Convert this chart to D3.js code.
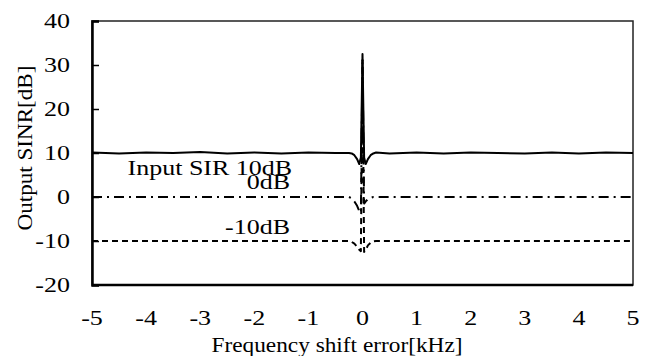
<!DOCTYPE html>
<html>
<head>
<meta charset="utf-8">
<script src="https://cdn.jsdelivr.net/npm/d3@7"></script>
<style>
  body { margin: 0; background: #fff; }
</style>
</head>
<body>
<svg id="chart" width="649" height="356"></svg>
<script>
// Frequency shift error [kHz] (shared x for all three curves)
const freqKHz = [-5, -4.5, -4, -3.5, -3, -2.5, -2, -1.5, -1, -0.5,
  -0.25, -0.2, -0.15, -0.1, -0.06, -0.03, 0, 0.03, 0.06, 0.1, 0.15, 0.2, 0.25,
  0.5, 1, 1.5, 2, 2.5, 3, 3.5, 4, 4.5, 5];

// Output SINR [dB] per input SIR
const sinrSir10 = [10.1, 9.9, 10.1, 10.0, 10.2, 9.9, 10.1, 9.9, 10.1, 10.0,
  10.0, 9.9, 9.5, 8.6, 7.5, 9.0, 32.5, 9.0, 7.5, 8.6, 9.5, 9.9, 10.1,
  9.9, 10.1, 9.9, 10.1, 10.0, 9.9, 10.1, 9.9, 10.1, 10.0];
const sinrSir0 = [0, 0, 0, 0, 0, 0, 0, 0, 0, 0,
  0, -0.3, -1.0, -2.0, -3.2, -3.6, 31.5, -1.5, -1.0, -0.5, -0.2, 0, 0,
  0, 0, 0, 0, 0, 0, 0, 0, 0, 0];
const sinrSirM10 = [-10, -10, -10, -10, -10, -10, -10, -10, -10, -10,
  -10, -10.2, -10.6, -11.3, -12.0, -12.3, 31, -12.5, -12.0, -11.0, -10.4, -10.1, -10,
  -10, -10, -10, -10, -10, -10, -10, -10, -10, -10];

const xTicks = [-5, -4, -3, -2, -1, 0, 1, 2, 3, 4, 5];
const yTicks = [-20, -10, 0, 10, 20, 30, 40];
const seriesLabels = ["Input SIR 10dB", "0dB", "-10dB"];

const font = "'Liberation Serif', 'Times New Roman', serif";

const margin = { top: 21, right: 16, bottom: 71, left: 92 };
const width = 649, height = 356;
const svg = d3.select("#chart");

const x = d3.scaleLinear().domain([-5, 5]).range([margin.left, width - margin.right]);
const y = d3.scaleLinear().domain([-20, 40]).range([height - margin.bottom, margin.top]);

// text is a bit wide in the original, so stretch it horizontally
function addText(g, str, px, py, opts) {
  const o = Object.assign({ size: 20, sx: 1.3, anchor: "middle", rotate: 0 }, opts);
  return g.append("text")
    .attr("transform", `translate(${px},${py})` + (o.rotate ? ` rotate(${o.rotate})` : "") + ` scale(${o.sx},1)`)
    .attr("text-anchor", o.anchor)
    .attr("font-size", o.size)
    .style("font-family", font)
    .attr("fill", "#000")
    .text(str);
}

// plot frame (top / right)
svg.append("rect")
  .attr("x", x(-5)).attr("y", y(40))
  .attr("width", x(5) - x(-5)).attr("height", y(-20) - y(40))
  .attr("fill", "none").attr("stroke", "#222").attr("stroke-width", 1.5);

// curves
const series = [
  { values: sinrSir10, dash: null },
  { values: sinrSir0, dash: "10,5,2,5" },
  { values: sinrSirM10, dash: "6,4" }
];
const line = d3.line().x(d => x(d[0])).y(d => y(d[1]));
series.forEach(s => {
  svg.append("path")
    .datum(freqKHz.map((f, i) => [f, s.values[i]]))
    .attr("fill", "none")
    .attr("stroke", "#000")
    .attr("stroke-width", 2)
    .attr("stroke-linejoin", "round")
    .attr("stroke-dasharray", s.dash)
    .attr("d", line);
});

// y axis: ticks pointing inward
svg.append("g")
  .attr("transform", `translate(${x(-5)},0)`)
  .call(d3.axisRight(y).tickValues(yTicks).tickSize(7).tickFormat(""))
  .call(g => g.select(".domain").attr("stroke-width", 2.5))
  .call(g => g.selectAll(".tick line").attr("stroke-width", 1.5));

const yLabels = svg.append("g");
yTicks.forEach(t => addText(yLabels, t, x(-5) - 22, y(t) + 7, { anchor: "end" }));

// x axis
svg.append("line")
  .attr("x1", x(-5)).attr("x2", x(5))
  .attr("y1", y(-20)).attr("y2", y(-20))
  .attr("stroke", "#000").attr("stroke-width", 2.5);

const xLabels = svg.append("g");
xTicks.forEach(t => addText(xLabels, t, x(t), y(-20) + 40));

// axis titles
addText(svg, "Frequency shift error[kHz]", 337, 352, { size: 21, sx: 1.11 });
addText(svg, "Output SINR[dB]", 32, 148, { size: 21, sx: 1.1, rotate: -90 });

// curve labels (anchored at their right end, in data units)
const labelPos = [[-1.3, 5.0], [-1.34, 1.8], [-1.34, -8.4]];
const lab = svg.append("g");
seriesLabels.forEach((s, i) => addText(lab, s, x(labelPos[i][0]), y(labelPos[i][1]), { anchor: "end" }));
</script>
</body>
</html>
